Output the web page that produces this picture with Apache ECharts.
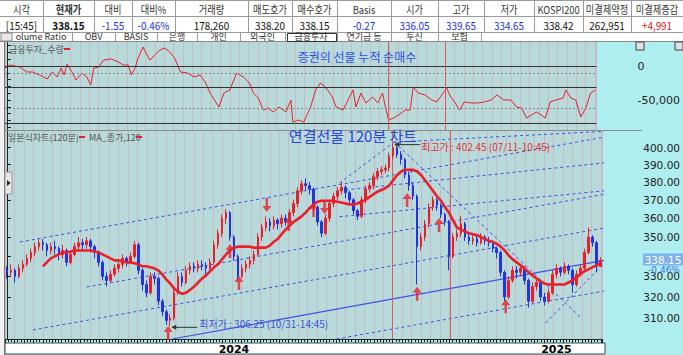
<!DOCTYPE html>
<html><head><meta charset="utf-8">
<script src="https://cdn.jsdelivr.net/npm/echarts@6/dist/echarts.min.js"></script>
<style>html,body{margin:0;padding:0;background:#afeeee;overflow:hidden}#c{width:683px;height:355px}</style>
</head><body><div id="c"></div>
<script>
// ---------- data ----------
const headerLabels = ['시각','현재가','대비','대비%','거래량','매도호가','매수호가','Basis','시가','고가','저가','KOSPI200','미결제약정','미결제증감'];
const headerValues = ['[15:45]','338.15','-1.55','-0.46%','178,260','338.20','338.15','-0.27','336.05','339.65','334.65','338.42','262,951','+4,991'];
const tabLabels = ['olume Ratio','OBV','BASIS','은행','개인','외국인','금융투자','연기금 등','투신','보험'];

// 120-minute candles: [open, close, low, high]
const candles = [
[333,332,329,335],[332,333,330,336],[333,330,327,334],[330,334,329,336],[334,336,332,338],
[336,339,335,341],[339,342,337,344],[342,345,340,347],[345,347,343,349],[347,346,343,349],
[346,343,340,347],[343,345,341,347],[345,344,341,348],[344,341,338,345],[341,343,339,346],
[343,337,335,344],[337,341,336,343],[341,345,340,347],[345,347,343,350],[347,346,343,349],
[346,348,344,350],[348,345,342,349],[345,342,339,346],[342,337,335,343],[337,330,328,338],
[330,328,325,332],[328,331,327,333],[331,334,330,336],[334,336,332,338],[336,339,334,341],
[339,337,335,340],[337,340,336,342],[340,346,339,348],[346,333,331,347],[333,326,323,334],
[326,322,320,328],[322,330,321,332],[330,329,326,332],[329,318,316,330],[318,313,311,319],
[313,309,307,314],[309,310,306.25,312],[310,322,309,324],[322,330,321,332],[330,327,325,332],
[327,333,326,335],[333,335,331,337],[335,334,332,337],[334,336,332,338],[336,335,333,338],
[335,334,331,337],[334,337,333,339],[337,346,336,348],[346,352,344,354],[352,360,350,362],
[360,363,357,365],[363,350,348,364],[350,340,338,351],[340,330,328,341],[330,334,329,336],
[334,336,332,338],[336,338,334,340],[338,341,336,343],[341,350,340,352],[350,355,348,357],
[355,358,353,361],[358,356,353,360],[356,359,354,361],[359,357,354,360],[357,360,355,362],
[360,358,356,362],[358,363,357,365],[363,368,361,370],[368,375,366,377],[375,379,373,381],
[379,378,375,382],[378,376,373,380],[376,366,364,377],[366,358,356,367],[358,352,350,359],
[352,360,351,362],[360,368,358,370],[368,372,366,374],[372,375,370,377],[375,377,373,380],
[377,374,371,378],[374,370,368,375],[370,364,362,371],[364,361,359,365],[361,370,360,372],
[370,376,368,378],[376,378,374,380],[378,383,376,385],[383,386,381,388],[386,387,384,389],
[387,388,385,390],[388,395,386,397],[395,400,393,402.45],[400,396,394,401],[396,393,390,398],
[393,384,382,394],[384,378,375,386],[378,372,370,380],[372,345,326,373],[345,350,343,352],
[350,357,348,359],[357,366,355,368],[366,370,364,372],[370,367,364,371],[367,362,360,368],
[362,358,356,363],[358,340,333,359],[340,350,339,352],[350,352,348,354],[352,357,350,361],
[357,350,348,358],[350,348,346,352],[348,349,346,351],[349,347,345,351],[347,350,346,352],
[350,348,346,351],[348,347,345,350],[347,344,342,348],[344,342,339,345],[342,332,330,343],
[332,320,318,333],[320,328,319,330],[328,333,327,335],[333,332,329,335],[332,334,330,336],
[334,328,326,335],[328,318,315,329],[318,325,317,327],[325,327,323,329],[327,320,318,328],
[320,318,316,322],[318,322,317,324],[322,331,321,333],[331,334,329,336],[334,332,330,335],
[332,335,331,337],[335,333,331,336],[333,326,322,334],[326,331,325,333],[331,334,330,336],
[334,342,333,344],[342,350,341,355],[350,347,345,351],[347,335,332,348],[335,338.15,334.65,339.65]
];

// MA(close,120), first nine bars have no value
const ma120 = [null,null,null,null,null,null,null,null,null,
335,337,339,340,341,342,342,342.5,343,343,
343,343,343,342.5,342,341,340,339,338,338,
337.5,337,337,336.5,336,335,335,334.5,334,333,
331,328.5,326.5,324,322.5,321.5,322,323.5,325,327,
329,330.5,332.5,334.5,336,338.5,341,343,344.5,345,
345,345,345,344.5,344.5,344.5,344.5,345.5,347.5,349,
351.5,354,356,358,359.5,361,363,365.5,367.5,369,
369.5,369.5,369.5,369.5,369,368.5,368,367.5,367.5,368,
369,370,371.5,373,374.5,375.5,376.5,378,381,384,
386,387,387,387,386,384,381,378,375,372,
369.5,366,363,359,355,354,353,352,351.5,351,
350,349,348,347.5,346.5,345,343,340.5,338.5,337,
335.5,334,332,330.5,329,327.5,326.5,326,326,326,
326,326,327,328,329.5,331,332.5,333.5,334.5,335.5,
336.5];

// 금융투자 cumulative quantity: [bar position, value]
const flow = [
[-0.5,-2900],[0.75,1500],[3.25,-1500],[5,-8800],[6.5,-8800],[8.25,-13200],[10.25,-19100],[11.5,-8800],
[12.75,-16200],[13.75,-2900],[14.5,-13200],[15.25,2900],[16.5,-8800],[17.5,-20600],[19,-10300],[20.25,-16200],
[21.25,-27900],[22,-2900],[23.25,-1500],[24.5,8800],[26.5,10300],[28.25,5900],[29.5,1500],[30.75,1500],
[31.5,-13200],[32.5,-2900],[33.25,11800],[34.5,27900],[35.25,19100],[36.25,8800],[37.5,16200],[38.75,23500],
[40,26500],[41.25,20600],[42.5,11800],[44,-8800],[45.75,-10300],[47.5,-16200],[49,-13200],[50.25,-23500],
[51.5,-39700],[53.75,-60300],[55,-39700],[56.5,-35300],[58.25,-10300],[60,-16200],[61.5,-25000],[62.5,-39700],
[63.75,-47100],[65,-64700],[66.25,-61800],[67.5,-67600],[69,-60300],[70.75,-67600],[72,-50000],[72.5,-82400],
[74,-79400],[75.25,-82400],[77,-60300],[78.25,-35300],[79.5,-25000],[80.75,-30900],[82.5,-45600],[83.5,-60300],
[85.25,-64700],[86.75,-47100],[87.75,-35300],[88.5,-60300],[89.75,-39700],[91,-54400],[92.75,-45600],[94,-54400],
[95.25,-39700],[96,-61800],[96.75,-79400],[98,-76500],[99.25,-72100],[101,-64700],[102.25,-64700],[103,-30900],
[104.25,-39700],[106,-42600],[107.75,-50000],[109,-52900],[110.25,-42600],[111.5,-32400],[112.25,-42600],[113.5,-52900],
[114.75,-64700],[116,-52900],[117.75,-54400],[119.25,-54400],[121,-52900],[122.75,-50000],[124.25,-42600],[126,-50000],
[127.75,-50000],[129.25,-60300],[130.5,-61800],[131.75,-76500],[133,-72100],[134.25,-67600],[135.5,-72100],[136.5,-76500],
[137.75,-52900],[139.25,-50000],[141,-47100],[141.75,-35300],[143,-47100],[144.25,-50000],[145.5,-75000],[146.75,-61800],
[148,-39700],[149.25,-35300]
];

const priceTicks = [310,320,330,340,350,360,370,380,390,400];
const priceLabels = [310,320,330,350,360,370,380,390,400];
const flowLabelTicks = [0,-50000];
const flowMinorTicks = [30000,20000,10000,0,-10000,-20000,-30000,-40000,-50000,-60000,-70000,-80000,-90000];
const yearIdx = [57,138];
const yearText = ['2024','2025'];
const flowSolidLevels = [0,-30900,-83800];
const flowDashedLevels = [-10300,-61800];
const markerBars = [96.75,111.25];

// trend lines: [[bar, price],[bar, price]]
const dashedTrends = [
 [[3.25,347.4],[158.5,410.1]],
 [[97.25,403.4],[156.75,410.7]],
 [[6.5,304.6],[158.5,358.0]],
 [[20,324.8],[158.5,376.5]],
 [[82.75,300.5],[158.5,325.8]],
 [[97.25,403.4],[144.25,310.1]],
 [[135.25,307.8],[153.25,343.3]],
 [[83.5,379.4],[97.25,403.4]],
 [[83.5,375.2],[158.5,393.1]],
 [[83.5,360.8],[158.5,376.9]]
];
const solidTrends = [
 [[41.5,300.5],[158.75,341.2]]
];
const upArrows = [[40.5,303.2],[56,342.8],[58.25,326.8],[70.75,356.9],[77,364.4],[100.5,369.9],[108.5,356.4],[103,321.6],[125.25,315.6]];
const downArrows = [[65.25,367.2],[79.75,366.1]];
const lastClose = 338.15, lastPct = '-0.46%';
const highIdx = 97, highText = '최고가 : 402.45 (07/11-10:45)';
const lowIdx = 41, lowText = '최저가 : 306.25 (10/31-14:45)';

// ---------- chart ----------
const L = Math.log;
const N = candles.length;
const RED = '#e8202a', BLUE = '#2233e0', TL = '#3b52e6', GRIDV = 'rgba(214,160,180,0.55)';
const FONT = '"Noto Sans CJK KR", "DejaVu Sans", sans-serif';
const chart = echarts.init(document.getElementById('c'), null, {renderer:'svg', width:683, height:355});

const trendSeries = [];
dashedTrends.forEach(seg => trendSeries.push({
  type:'line', xAxisIndex:0, yAxisIndex:1, data: seg.map(p=>[p[0], L(p[1])]), clip:false, symbol:'none', silent:true,
  lineStyle:{color:TL, width:1, type:[3,3]}, z:3, animation:false
}));
solidTrends.forEach(seg => trendSeries.push({
  type:'line', xAxisIndex:0, yAxisIndex:1, data: seg.map(p=>[p[0], L(p[1])]), clip:false, symbol:'none', silent:true,
  lineStyle:{color:TL, width:1.2}, z:3, animation:false
}));

const arrowPath = 'path://M5,0 L10,6 L6.4,6 L6.4,14 L3.6,14 L3.6,6 L0,6 Z';

const option = {
  animation:false,
  grid:[
    {left:5, right:78, top:42, height:88, show:true, backgroundColor:'#b8dada', borderWidth:0},
    {left:5, right:78, top:131, height:208, show:true, backgroundColor:'#b8dada', borderWidth:0}
  ],
  xAxis:[
    {gridIndex:1, type:'value', min:-0.5, max:N-0.5, position:'bottom',
     axisLine:{show:false}, axisTick:{show:false}, splitLine:{show:false},
     axisLabel:{customValues:yearIdx, formatter:v=>yearText[yearIdx.indexOf(v)]||'', color:'#000', fontWeight:'bold', fontSize:11, fontFamily:'DejaVu Sans', margin:5}},
    {gridIndex:1, type:'value', min:0, max:600, interval:9.5, position:'bottom',
     axisLine:{show:true, lineStyle:{color:'#222', width:1}},
     axisTick:{show:true, length:4, lineStyle:{color:'#222'}},
     minorTick:{show:true, splitNumber:3, length:3, lineStyle:{color:'#222'}},
     axisLabel:{show:false}, splitLine:{show:true, lineStyle:{color:GRIDV, width:1}}},
    {gridIndex:0, type:'value', min:-0.5, max:N-0.5, show:false},
    {gridIndex:0, type:'value', min:0, max:600, interval:9.5, position:'bottom',
     axisLine:{show:false}, axisTick:{show:false}, axisLabel:{show:false},
     splitLine:{show:true, lineStyle:{color:GRIDV, width:1}}}
  ],
  yAxis:[
    {gridIndex:0, type:'value', min:-94100, max:35300, position:'right', offset:37,
     axisLine:{show:true, lineStyle:{color:'#222'}},
     axisTick:{show:true, length:4, customValues:flowMinorTicks, lineStyle:{color:'#222'}},
     axisLabel:{customValues:flowLabelTicks, color:'#222', fontSize:11, fontFamily:'DejaVu Sans', margin:4},
     splitLine:{show:false}},
    {gridIndex:1, type:'value', min:L(300.51), max:L(410.11), position:'right', offset:37,
     axisLine:{show:true, lineStyle:{color:'#222'}},
     axisTick:{show:true, length:4, customValues:priceTicks.map(L), lineStyle:{color:'#222'}},
     axisLabel:{customValues:priceLabels.map(L), formatter:v=>Math.exp(v).toFixed(2), color:'#222', fontSize:10.5, fontFamily:'DejaVu Sans', margin:4},
     splitLine:{show:false}}
  ],
  series:[
    {type:'line', name:'금융투자_수량', xAxisIndex:2, yAxisIndex:0, data:flow, symbol:'none',
     lineStyle:{color:RED, width:1}, z:4, silent:true,
     markLine:{silent:true, symbol:'none', label:{show:false}, data:[
       ...flowSolidLevels.map(v=>({yAxis:v, lineStyle:{color:'#333', width:1.2, type:'solid'}})),
       ...flowDashedLevels.map(v=>({yAxis:v, lineStyle:{color:'#8a8a8a', width:1, type:[2,2]}})),
       ...markerBars.map(v=>({xAxis:v, lineStyle:{color:'#e85a5a', width:1, type:'solid'}}))
     ]}},
    {type:'candlestick', name:'일본식차트(120분)', xAxisIndex:0, yAxisIndex:1,
     data:candles.map((c,i)=>[i, L(c[0]), L(c[1]), L(c[2]), L(c[3])]), barWidth:2,
     encode:{x:0, y:[1,2,3,4]},
     itemStyle:{color:RED, color0:BLUE, borderColor:RED, borderColor0:BLUE, borderWidth:1}, z:5, silent:true,
     markLine:{silent:true, symbol:'none', label:{show:false}, data:
       markerBars.map(v=>({xAxis:v, lineStyle:{color:'#e85a5a', width:1, type:'solid'}}))}},
    {type:'line', name:'MA_종가,120', xAxisIndex:0, yAxisIndex:1,
     data:ma120.map((v,i)=>[i, v==null?null:L(v)]), symbol:'none', connectNulls:false,
     lineStyle:{color:RED, width:2.6}, z:6, silent:true},
    ...trendSeries,
    {type:'scatter', xAxisIndex:0, yAxisIndex:1, data:upArrows.map(p=>[p[0],L(p[1])]), symbol:arrowPath,
     symbolSize:[9,14], itemStyle:{color:RED}, z:7, clip:false, silent:true},
    {type:'scatter', xAxisIndex:0, yAxisIndex:1, data:downArrows.map(p=>[p[0],L(p[1])]), symbol:arrowPath,
     symbolRotate:180, symbolSize:[9,14], itemStyle:{color:RED}, z:7, clip:false, silent:true}
  ]
};
chart.setOption(option);

// ---------- overlay texts / frame ----------
const G = [];
const T = (x,y,text,fill,font,align,extra) => G.push(Object.assign({type:'text', x:x, y:y, z:50,
  style:{text:text, fill:fill, font:font, align:align||'left', textAlign:align||'left', verticalAlign:'middle', textVerticalAlign:'middle'}}, extra||{}));
const Ln = (x1,y1,x2,y2,stroke,w,dash) => G.push({type:'line', z:49, shape:{x1:x1,y1:y1,x2:x2,y2:y2},
  style:{stroke:stroke, lineWidth:w||1, lineDash:dash||null}});

// header table
G.push({type:'rect', z:40, shape:{x:0,y:0,width:683,height:41}, style:{fill:'#ffffff'}});
const cols = [0,43,94,132,175,248,292,337,391,438,484,534,583,631,683];
const valColor = ['#111','#111',BLUE,BLUE,'#111','#111','#111',BLUE,BLUE,BLUE,BLUE,'#111','#111','#e01818'];
Ln(0,0.5,683,0.5,'#9a9a9a'); Ln(0,16.5,683,16.5,'#9a9a9a'); Ln(0,32.5,683,32.5,'#9a9a9a');
for (let i=1;i<cols.length-1;i++) Ln(cols[i]+0.5,0,cols[i]+0.5,32.5,'#9a9a9a');
headerLabels.forEach((t,i)=>{
  const cx=(cols[i]+cols[i+1])/2;
  T(cx, 9, t, '#333', (i===1?'bold ':'')+'11px '+FONT, 'center', {scaleX:0.84});
  T(cx, 25, headerValues[i], valColor[i], (i===1?'bold ':'')+'11px '+FONT, 'center', {scaleX:0.9});
});
// tabs
const tabEdges = [4,72,115,157,197,240,285,337,391,438,481];
for (let i=0;i<tabEdges.length;i++) Ln(tabEdges[i]+0.5,33,tabEdges[i]+0.5,41,'#9a9a9a');
tabLabels.forEach((t,i)=>{ T((tabEdges[i]+tabEdges[i+1])/2 + (i===0?3:0), 36.5, t, '#333', '9px '+FONT, 'center'); });
G.push({type:'rect', z:50, shape:{x:287.5,y:33.5,width:49,height:8}, style:{fill:'none', stroke:'#333', lineWidth:1}});
G.push({type:'rect', z:51, shape:{x:1,y:33,width:11,height:8}, style:{fill:'#e8e8e8', stroke:'#888', lineWidth:1}});
Ln(0,41.5,683,41.5,'#888');
// left frame
G.push({type:'rect', z:40, shape:{x:0,y:42,width:5,height:313}, style:{fill:'#f2f2f2'}});
Ln(4.5,42,4.5,355,'#777');
// separator between panels
Ln(5,130.5,642,130.5,'#8c8c8c');
// x-label strip
G.push({type:'rect', z:-1, shape:{x:5,y:343,width:600,height:11}, style:{fill:'#ffffff', stroke:'#444', lineWidth:1}});
// upper panel titles
T(9, 49, '금융투자_수량', '#555', '9px '+FONT);
G.push({type:'rect', z:50, shape:{x:64,y:48,width:6,height:2}, style:{fill:RED}});
T(357, 56, '증권의 선물 누적 순매수', '#3050e0', '12px '+FONT, 'center');
// lower panel titles
T(8, 137, '일본식차트(120분)', '#555', '9px '+FONT);
G.push({type:'rect', z:50, shape:{x:79,y:136,width:6,height:2}, style:{fill:RED}});
T(89, 137, 'MA_종가,120', '#555', '9px '+FONT);
G.push({type:'rect', z:50, shape:{x:136,y:136,width:6,height:2}, style:{fill:RED}});
T(353, 135, '연결선물 120분 차트', '#2a46d8', '15px '+FONT, 'center');
// small button on left and icons
G.push({type:'rect', z:50, shape:{x:5,y:172,width:7,height:22}, style:{fill:'#e6e6e6', stroke:'#999', lineWidth:1}});
G.push({type:'polygon', z:51, shape:{points:[[7,180],[10.5,183],[7,186]]}, style:{fill:'#222'}});
G.push({type:'rect', z:50, shape:{x:636,y:42,width:8,height:8}, style:{fill:'#e0e0e0', stroke:'#444', lineWidth:1}});
Ln(638,46,642,46,'#222'); Ln(640,44,640,48,'#222');
G.push({type:'rect', z:50, shape:{x:675,y:42,width:8,height:8}, style:{fill:'#e0e0e0', stroke:'#444', lineWidth:1}});

// annotations computed from data
const hp = chart.convertToPixel({seriesIndex:1}, [highIdx, L(candles[highIdx][3])]);
const lp = chart.convertToPixel({seriesIndex:1}, [lowIdx, L(candles[lowIdx][2])]);
Ln(hp[0]+2, hp[1]+1, hp[0]+27, hp[1]+1, '#333', 1);
G.push({type:'polygon', z:50, shape:{points:[[hp[0]+1,hp[1]+1],[hp[0]+6,hp[1]-1.5],[hp[0]+6,hp[1]+3.5]]}, style:{fill:'#333'}});
T(hp[0]+28, hp[1]+3, highText, '#e83030', '10px '+FONT);
Ln(lp[0]+2, lp[1]+1, lp[0]+27, lp[1]+1, '#333', 1);
G.push({type:'polygon', z:50, shape:{points:[[lp[0]+1,lp[1]+1],[lp[0]+6,lp[1]-1.5],[lp[0]+6,lp[1]+3.5]]}, style:{fill:'#333'}});
T(lp[0]+29, lp[1]-3, lowText, '#3a50d8', '10px '+FONT);

// current price label on the price axis
const cy = chart.convertToPixel({yAxisIndex:1}, L(lastClose));
G.push({type:'rect', z:60, shape:{x:643,y:cy-6.5,width:40,height:12}, style:{fill:'#7fb0f0'}});
T(663, cy-0.5, lastClose.toFixed(2), '#ffffff', '10.5px DejaVu Sans', 'center', {z:61});
T(664, cy+10, lastPct, '#3a6fe0', '9px DejaVu Sans', 'center', {z:61});

chart.setOption({graphic:{elements:G}});
</script></body></html>
